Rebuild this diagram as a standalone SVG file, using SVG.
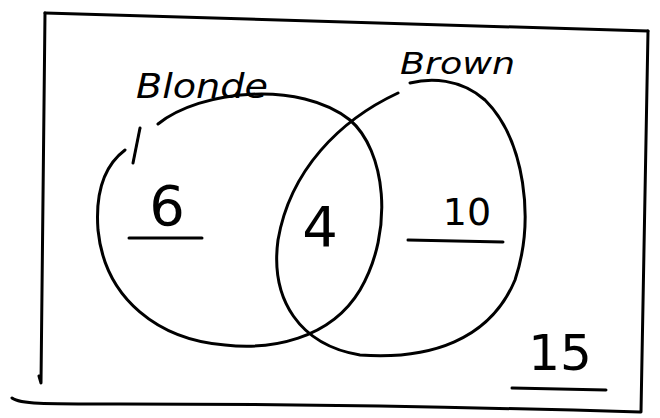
<svg xmlns="http://www.w3.org/2000/svg" width="660" height="418" viewBox="0 0 660 418">
<style>
.ln{fill:none;stroke:#000;stroke-width:3;stroke-linecap:round;stroke-linejoin:round}
.t{font-family:"DejaVu Sans","Liberation Sans",sans-serif;fill:#000}
</style>
<rect width="660" height="418" fill="#fff"/>
<g id="frame">
<path class="ln" d="M45,13 L648,31"/>
<path class="ln" d="M45,13 L41,383 L39,376"/>
<path class="ln" d="M12,398 C20,404 40,404 120,404 C300,404 500,408 640,412"/>
<path class="ln" d="M648,31 L641,412"/>
</g>
<g id="blonde">
<path class="ln" d="M158,124 C200,90 300,80 350,120 C385,150 395,230 360,290 C330,340 270,350 225,345 C160,340 105,300 98,230 C95,190 105,165 125,150"/>
<path class="ln" d="M133,163 L140,128"/>
<text class="t" x="136" y="98" font-size="34" font-style="italic" textLength="132" lengthAdjust="spacingAndGlyphs">Blonde</text>
<text class="t" x="167" y="225" font-size="56" text-anchor="middle">6</text>
<path class="ln" d="M129,238 L202,238"/>
</g>
<g id="brown">
<path class="ln" d="M398,93 C340,120 290,170 278,240 C270,300 300,345 360,355 C430,360 490,340 515,280 C535,220 525,140 485,100 C460,78 430,78 410,83"/>
<text class="t" x="400" y="74" font-size="30" font-style="italic" textLength="115" lengthAdjust="spacingAndGlyphs">Brown</text>
<text class="t" x="467" y="225" font-size="38" text-anchor="middle">10</text>
<path class="ln" d="M408,240 L503,242"/>
</g>
<g id="both">
<text class="t" x="320" y="246" font-size="56" text-anchor="middle">4</text>
</g>
<g id="total">
<text class="t" x="560" y="370" font-size="50" text-anchor="middle">15</text>
<path class="ln" d="M512,388 L606,390"/>
</g>
</svg>
